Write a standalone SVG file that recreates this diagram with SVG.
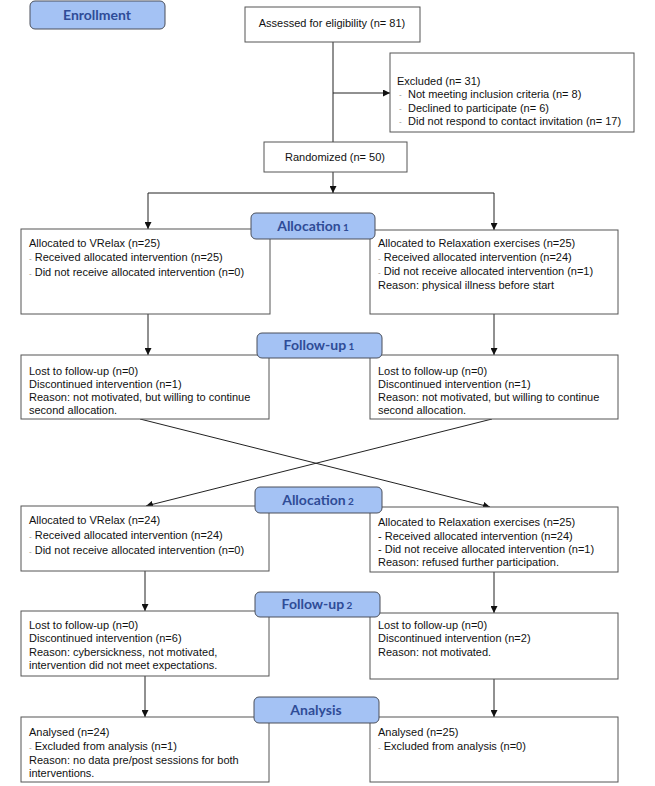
<svg xmlns="http://www.w3.org/2000/svg" width="655" height="786" viewBox="0 0 655 786">
<defs>
<marker id="ah" viewBox="0 0 10 10" refX="10" refY="5" markerWidth="7" markerHeight="7" markerUnits="userSpaceOnUse" orient="auto">
<path d="M0,0 L10,5 L0,10 z" fill="#111"/>
</marker>
<style>
.box{fill:#fff;stroke:#555;stroke-width:1}
.lab{fill:#a4c2f4;stroke:#4a4f5a;stroke-width:1}
.lt{font-family:Lato,"Open Sans",sans-serif;font-weight:bold;font-size:14px;fill:#2f4c97;text-anchor:middle}
.sm{font-size:10px}
.t{font-family:"Liberation Sans",Arial,sans-serif;font-size:11px;fill:#111}
.c{text-anchor:middle}
.d{fill:#888;font-size:8px}
.ln{stroke:#222;stroke-width:1;fill:none}
.ar{stroke:#222;stroke-width:1;fill:none;marker-end:url(#ah)}
</style>
</defs>
<rect width="655" height="786" fill="#fff"/>
<g id="connectors">
<line class="ln" x1="333" y1="42" x2="333" y2="142"/>
<line class="ar" x1="333" y1="93" x2="390" y2="93"/>
<line class="ar" x1="333" y1="172" x2="333" y2="193"/>
<polyline class="ln" points="148,193 494,193"/>
<line class="ar" x1="148" y1="193" x2="148" y2="229"/>
<line class="ar" x1="494" y1="193" x2="494" y2="230"/>
<line class="ar" x1="148" y1="314" x2="148" y2="355"/>
<line class="ar" x1="494" y1="314" x2="494" y2="355"/>
<line class="ar" x1="140" y1="419" x2="490" y2="507"/>
<line class="ar" x1="492" y1="419" x2="146" y2="506"/>
<line class="ar" x1="145" y1="571" x2="145" y2="611"/>
<line class="ar" x1="494" y1="572" x2="494" y2="613"/>
<line class="ar" x1="145" y1="676" x2="145" y2="717"/>
<line class="ar" x1="494" y1="679" x2="494" y2="717"/>
</g>
<g id="enrollment">
<rect class="lab" x="30" y="1" width="135" height="28" rx="5"/>
<text class="lt" x="97" y="20">Enrollment</text>
</g>
<g id="assessed">
<rect class="box" x="245" y="7" width="175" height="35"/>
<text class="t c" x="332" y="27">Assessed for eligibility  (n= 81)</text>
</g>
<g id="excluded">
<rect class="box" x="390" y="53" width="244" height="79"/>
<text class="t" x="397" y="85">Excluded  (n= 31)</text>
<text class="t" x="399" y="97"><tspan class="d">-</tspan></text>
<text class="t" x="408" y="98">Not meeting inclusion criteria (n= 8)</text>
<text class="t" x="399" y="111"><tspan class="d">-</tspan></text>
<text class="t" x="408" y="112">Declined to participate (n= 6)</text>
<text class="t" x="399" y="124"><tspan class="d">-</tspan></text>
<text class="t" x="408" y="125">Did not respond to contact invitation  (n= 17)</text>
</g>
<g id="randomized">
<rect class="box" x="264" y="142" width="143" height="30"/>
<text class="t c" x="335" y="161">Randomized  (n= 50)</text>
</g>
<g id="alloc1-left">
<rect class="box" x="21" y="229" width="249" height="85"/>
<text class="t" x="29" y="247">Allocated to VRelax  (n=25)</text>
<text class="t" x="29" y="261"><tspan class="d">-</tspan> Received  allocated  intervention  (n=25)</text>
<text class="t" x="29" y="276"><tspan class="d">-</tspan> Did not receive allocated  intervention  (n=0)</text>
</g>
<g id="alloc1-right">
<rect class="box" x="370" y="230" width="248" height="84"/>
<text class="t" x="378" y="247">Allocated to Relaxation  exercises (n=25)</text>
<text class="t" x="378" y="261"><tspan class="d">-</tspan> Received  allocated  intervention  (n=24)</text>
<text class="t" x="378" y="275"><tspan class="d">-</tspan> Did not receive allocated  intervention  (n=1)</text>
<text class="t" x="378" y="289">Reason:  physical illness  before start</text>
</g>
<g id="allocation1">
<rect class="lab" x="251" y="213" width="124" height="26" rx="5"/>
<text class="lt" x="313" y="231">Allocation<tspan class="sm"> 1</tspan></text>
</g>
<g id="fu1-left">
<rect class="box" x="21" y="355" width="248" height="64"/>
<text class="t" x="29" y="375">Lost to follow-up  (n=0)</text>
<text class="t" x="29" y="388">Discontinued intervention  (n=1)</text>
<text class="t" x="29" y="401">Reason:  not motivated,  but willing to continue</text>
<text class="t" x="29" y="414">second allocation.</text>
</g>
<g id="fu1-right">
<rect class="box" x="370" y="355" width="248" height="64"/>
<text class="t" x="378" y="375">Lost to follow-up  (n=0)</text>
<text class="t" x="378" y="388">Discontinued intervention  (n=1)</text>
<text class="t" x="378" y="401">Reason:  not motivated,  but willing to continue</text>
<text class="t" x="378" y="414">second allocation.</text>
</g>
<g id="followup1">
<rect class="lab" x="257" y="333" width="125" height="25" rx="5"/>
<text class="lt" x="319" y="350">Follow-up<tspan class="sm"> 1</tspan></text>
</g>
<g id="alloc2-left">
<rect class="box" x="21" y="506" width="248" height="65"/>
<text class="t" x="29" y="524">Allocated to VRelax  (n=24)</text>
<text class="t" x="29" y="539"><tspan class="d">-</tspan> Received  allocated  intervention  (n=24)</text>
<text class="t" x="29" y="554"><tspan class="d">-</tspan> Did not receive allocated  intervention  (n=0)</text>
</g>
<g id="alloc2-right">
<rect class="box" x="370" y="507" width="248" height="65"/>
<text class="t" x="378" y="526">Allocated to Relaxation  exercises (n=25)</text>
<text class="t" x="378" y="540">- Received  allocated  intervention  (n=24)</text>
<text class="t" x="378" y="553">- Did not receive allocated  intervention  (n=1)</text>
<text class="t" x="378" y="566">Reason:  refused further participation.</text>
</g>
<g id="allocation2">
<rect class="lab" x="255" y="487" width="127" height="26" rx="5"/>
<text class="lt" x="318" y="505">Allocation<tspan class="sm"> 2</tspan></text>
</g>
<g id="fu2-left">
<rect class="box" x="21" y="611" width="248" height="65"/>
<text class="t" x="29" y="629">Lost to follow-up  (n=0)</text>
<text class="t" x="29" y="642">Discontinued intervention  (n=6)</text>
<text class="t" x="29" y="656">Reason:  cybersickness,  not motivated,</text>
<text class="t" x="29" y="669">intervention  did not meet  expectations.</text>
</g>
<g id="fu2-right">
<rect class="box" x="370" y="613" width="248" height="66"/>
<text class="t" x="378" y="629">Lost to follow-up  (n=0)</text>
<text class="t" x="378" y="642">Discontinued intervention  (n=2)</text>
<text class="t" x="378" y="656">Reason:  not motivated.</text>
</g>
<g id="followup2">
<rect class="lab" x="255" y="592" width="125" height="25" rx="5"/>
<text class="lt" x="317" y="609">Follow-up<tspan class="sm"> 2</tspan></text>
</g>
<g id="analysis-left">
<rect class="box" x="21" y="717" width="248" height="65"/>
<text class="t" x="29" y="736">Analysed  (n=24)</text>
<text class="t" x="29" y="750"><tspan class="d">-</tspan> Excluded  from analysis (n=1)</text>
<text class="t" x="29" y="764">Reason:  no data pre/post sessions for both</text>
<text class="t" x="29" y="777">interventions.</text>
</g>
<g id="analysis-right">
<rect class="box" x="370" y="717" width="248" height="65"/>
<text class="t" x="378" y="736">Analysed  (n=25)</text>
<text class="t" x="378" y="750"><tspan class="d">-</tspan> Excluded  from analysis (n=0)</text>
</g>
<g id="analysis">
<rect class="lab" x="254" y="697" width="125" height="26" rx="5"/>
<text class="lt" x="316" y="715">Analysis</text>
</g>
</svg>
